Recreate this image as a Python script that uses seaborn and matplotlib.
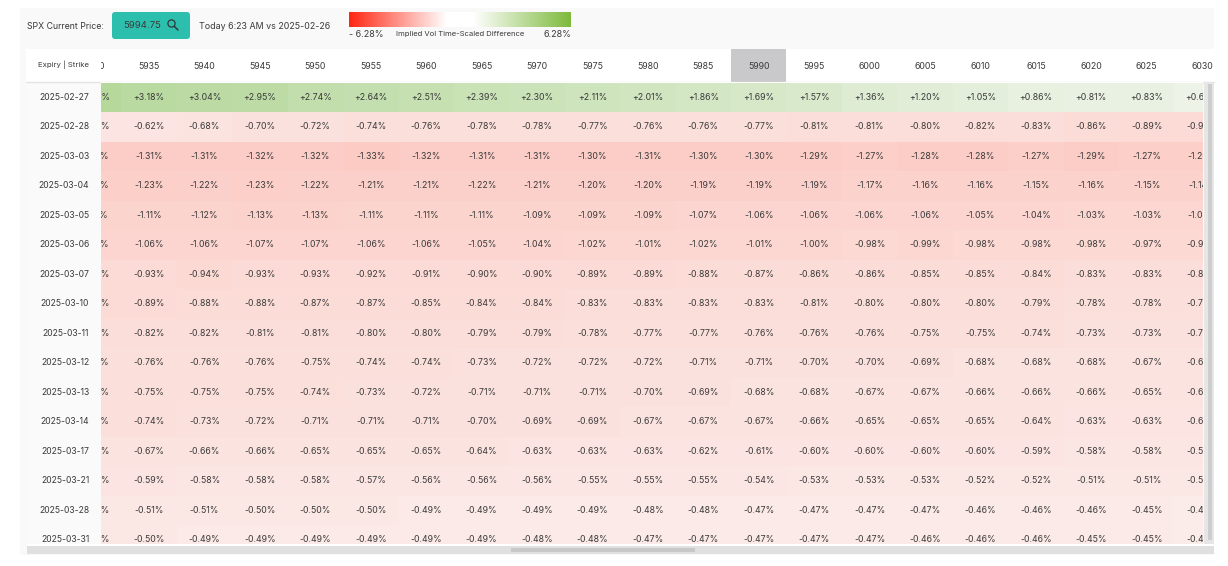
import numpy as np
import pandas as pd
import matplotlib
matplotlib.use("Agg")
import matplotlib.pyplot as plt
import seaborn as sns
from matplotlib.colors import LinearSegmentedColormap, Normalize
from matplotlib.cm import ScalarMappable
from matplotlib.patches import Rectangle, FancyBboxPatch, Circle

# first and last columns are cut off in the screenshot, those values are estimates
strikes = [5930, 5935, 5940, 5945, 5950, 5955, 5960, 5965, 5970, 5975, 5980,
           5985, 5990, 5995, 6000, 6005, 6010, 6015, 6020, 6025, 6030]
expiries = ["2025-02-27", "2025-02-28", "2025-03-03", "2025-03-04", "2025-03-05", "2025-03-06",
            "2025-03-07", "2025-03-10", "2025-03-11", "2025-03-12", "2025-03-13", "2025-03-14",
            "2025-03-17", "2025-03-21", "2025-03-28", "2025-03-31"]

r_0227 = [3.33, 3.18, 3.04, 2.95, 2.74, 2.64, 2.51, 2.39, 2.30, 2.11, 2.01, 1.86, 1.69, 1.57, 1.36, 1.20, 1.05, 0.86, 0.81, 0.83, 0.65]
r_0228 = [-0.60, -0.62, -0.68, -0.70, -0.72, -0.74, -0.76, -0.78, -0.78, -0.77, -0.76, -0.76, -0.77, -0.81, -0.81, -0.80, -0.82, -0.83, -0.86, -0.89, -0.92]
r_0303 = [-1.30, -1.31, -1.31, -1.32, -1.32, -1.33, -1.32, -1.31, -1.31, -1.30, -1.31, -1.30, -1.30, -1.29, -1.27, -1.28, -1.28, -1.27, -1.29, -1.27, -1.26]
r_0304 = [-1.24, -1.23, -1.22, -1.23, -1.22, -1.21, -1.21, -1.22, -1.21, -1.20, -1.20, -1.19, -1.19, -1.19, -1.17, -1.16, -1.16, -1.15, -1.16, -1.15, -1.14]
r_0305 = [-1.10, -1.11, -1.12, -1.13, -1.13, -1.11, -1.11, -1.11, -1.09, -1.09, -1.09, -1.07, -1.06, -1.06, -1.06, -1.06, -1.05, -1.04, -1.03, -1.03, -1.02]
r_0306 = [-1.06, -1.06, -1.06, -1.07, -1.07, -1.06, -1.06, -1.05, -1.04, -1.02, -1.01, -1.02, -1.01, -1.00, -0.98, -0.99, -0.98, -0.98, -0.98, -0.97, -0.96]
r_0307 = [-0.93, -0.93, -0.94, -0.93, -0.93, -0.92, -0.91, -0.90, -0.90, -0.89, -0.89, -0.88, -0.87, -0.86, -0.86, -0.85, -0.85, -0.84, -0.83, -0.83, -0.82]
r_0310 = [-0.89, -0.89, -0.88, -0.88, -0.87, -0.87, -0.85, -0.84, -0.84, -0.83, -0.83, -0.83, -0.83, -0.81, -0.80, -0.80, -0.80, -0.79, -0.78, -0.78, -0.77]
r_0311 = [-0.82, -0.82, -0.82, -0.81, -0.81, -0.80, -0.80, -0.79, -0.79, -0.78, -0.77, -0.77, -0.76, -0.76, -0.76, -0.75, -0.75, -0.74, -0.73, -0.73, -0.72]
r_0312 = [-0.77, -0.76, -0.76, -0.76, -0.75, -0.74, -0.74, -0.73, -0.72, -0.72, -0.72, -0.71, -0.71, -0.70, -0.70, -0.69, -0.68, -0.68, -0.68, -0.67, -0.66]
r_0313 = [-0.76, -0.75, -0.75, -0.75, -0.74, -0.73, -0.72, -0.71, -0.71, -0.71, -0.70, -0.69, -0.68, -0.68, -0.67, -0.67, -0.66, -0.66, -0.66, -0.65, -0.64]
r_0314 = [-0.75, -0.74, -0.73, -0.72, -0.71, -0.71, -0.71, -0.70, -0.69, -0.69, -0.67, -0.67, -0.67, -0.66, -0.65, -0.65, -0.65, -0.64, -0.63, -0.63, -0.62]
r_0317 = [-0.68, -0.67, -0.66, -0.66, -0.65, -0.65, -0.65, -0.64, -0.63, -0.63, -0.63, -0.62, -0.61, -0.60, -0.60, -0.60, -0.60, -0.59, -0.58, -0.58, -0.57]
r_0321 = [-0.60, -0.59, -0.58, -0.58, -0.58, -0.57, -0.56, -0.56, -0.56, -0.55, -0.55, -0.55, -0.54, -0.53, -0.53, -0.53, -0.52, -0.52, -0.51, -0.51, -0.50]
r_0328 = [-0.52, -0.51, -0.51, -0.50, -0.50, -0.50, -0.49, -0.49, -0.49, -0.49, -0.48, -0.48, -0.47, -0.47, -0.47, -0.47, -0.46, -0.46, -0.46, -0.45, -0.44]
r_0331 = [-0.50, -0.50, -0.49, -0.49, -0.49, -0.49, -0.49, -0.49, -0.48, -0.48, -0.47, -0.47, -0.47, -0.47, -0.47, -0.46, -0.46, -0.46, -0.45, -0.45, -0.44]

df = pd.DataFrame([r_0227, r_0228, r_0303, r_0304, r_0305, r_0306, r_0307, r_0310,
                   r_0311, r_0312, r_0313, r_0314, r_0317, r_0321, r_0328, r_0331],
                  index=expiries, columns=strikes)
labels = df.map(lambda v: f"{v:+.2f}%")

sns.set_theme(style="white")
plt.rcParams["font.family"] = ["Inter", "DejaVu Sans"]

W, H = 1228, 566
TXT = "#3a3a3a"
vmax = 6.28


def make_cmap(name, nodes):
    return LinearSegmentedColormap.from_list(name, [(p, tuple(c / 255 for c in rgb)) for p, rgb in nodes])


cell_cmap = make_cmap("cells", [(0.0, (255, 38, 18)), (0.396, (252, 205, 198)), (0.46, (251, 232, 229)), (0.5, (255, 255, 255)),
                                (0.564, (233, 241, 226)), (0.753, (185, 218, 160)), (1.0, (125, 185, 60))])
# legend strip has a wider white band than the cells show
legend_cmap = make_cmap("legend", [(0.0, (255, 38, 18)), (0.44, (255, 255, 255)), (0.56, (255, 255, 255)), (1.0, (125, 185, 60))])
norm = Normalize(-vmax, vmax)


def px_axes(x0, y0, x1, y1, **kw):
    return fig.add_axes([x0 / W, 1 - y1 / H, (x1 - x0) / W, (y1 - y0) / H], **kw)


fig = plt.figure(figsize=(W / 100, H / 100), dpi=100, facecolor="white")

# page background, drawn in screenshot pixels
bg = px_axes(0, 0, W, H, zorder=-1)
bg.set_xlim(0, W)
bg.set_ylim(H, 0)
bg.axis("off")
bg.add_patch(Rectangle((20, 8), 1194, 547, fc="#f9f9f9", ec="none"))
bg.add_patch(Rectangle((26, 49), 1188, 33, fc="white", ec="none"))
bg.add_patch(Rectangle((26, 82), 75, 464, fc="#fafafa", ec="none"))
bg.plot([26, 1214], [81.5, 81.5], color="#e4e4e4", lw=1)
bg.add_patch(Rectangle((731, 49), 55, 33, fc="#c9c9cb", ec="none"))
bg.add_patch(FancyBboxPatch((114, 14), 74, 23, boxstyle="round,pad=2,rounding_size=3", fc="#2cbfae", ec="none"))
bg.add_patch(Circle((171.5, 23.5), 3.6, fc="none", ec="#2f3a3a", lw=0.9))
bg.plot([174.5, 178], [26.5, 30], color="#2f3a3a", lw=1.1)
bg.text(27, 26.5, "SPX Current Price:", fontsize=6.3, color=TXT, va="center")
bg.text(161, 26, "5994.75", fontsize=6.9, color=TXT, va="center", ha="right")
bg.text(199, 26.5, "Today 6:23 AM vs 2025-02-26", fontsize=6.4, color=TXT, va="center")
bg.text(349, 34.5, "- 6.28%", fontsize=6.5, color=TXT, va="center")
bg.text(395.5, 34, "Implied Vol Time-Scaled Difference", fontsize=5.5, color=TXT, va="center")
bg.text(571, 34.5, "6.28%", fontsize=6.5, color=TXT, va="center", ha="right")
bg.text(64, 65, "Expiry | Strike", fontsize=5.6, color=TXT, va="center", ha="center")

# legend gradient
cax = px_axes(349, 12, 571, 27)
cb = fig.colorbar(ScalarMappable(norm=norm, cmap=legend_cmap), cax=cax, orientation="horizontal")
cb.set_ticks([])
cb.outline.set_visible(False)

# heat table, axes window only shows part of the first and last strike
col_w = 55.42
row_h = 29.5
left_edge = 66.0
top_edge = 82.7
x_px0, x_px1, y_px0, y_px1 = 101, 1203, 82, 544
ax = px_axes(x_px0, y_px0, x_px1, y_px1)
sns.heatmap(df, ax=ax, cmap=cell_cmap, vmin=-vmax, vmax=vmax, cbar=False, annot=labels, fmt="",
            annot_kws={"fontsize": 6.3, "color": TXT}, linewidths=0, xticklabels=False, yticklabels=True)
ax.set_xlim((x_px0 - left_edge) / col_w, (x_px1 - left_edge) / col_w)
ax.set_ylim((y_px1 - top_edge) / row_h, (y_px0 - top_edge) / row_h)
for t in ax.texts:
    t.set_clip_on(True)
ax.set_xlabel("")
ax.set_ylabel("")
ax.tick_params(axis="y", length=0, pad=8.5, labelsize=6.2, labelcolor=TXT, rotation=0)

# strike header, same x scale as the table
hdr = px_axes(x_px0, 49, 1214, 82)
hdr.set_xlim((x_px0 - left_edge) / col_w, (1214 - left_edge) / col_w)
hdr.set_ylim(1, 0)
hdr.axis("off")
for i, s in enumerate(strikes):
    hdr.text(i + 0.5, 0.53, str(s), fontsize=6.3, color=TXT, ha="center", va="center", clip_on=True)

# scrollbars on top
fg = px_axes(0, 0, W, H, zorder=5)
fg.set_xlim(0, W)
fg.set_ylim(H, 0)
fg.axis("off")
fg.patch.set_alpha(0)
fg.add_patch(Rectangle((1204, 82), 10, 463, fc="#e6e6e6", ec="none"))
fg.add_patch(Rectangle((1207.5, 84), 4.5, 456, fc="#cdcdcd", ec="none"))
fg.add_patch(Rectangle((27, 544), 1187, 2, fc="white", ec="none"))
fg.add_patch(Rectangle((27, 546), 1187, 8, fc="#e0e0e0", ec="none"))
fg.add_patch(Rectangle((511, 548), 184, 4, fc="#c8c8c8", ec="none"))

fig.savefig("out.png", dpi=100)
